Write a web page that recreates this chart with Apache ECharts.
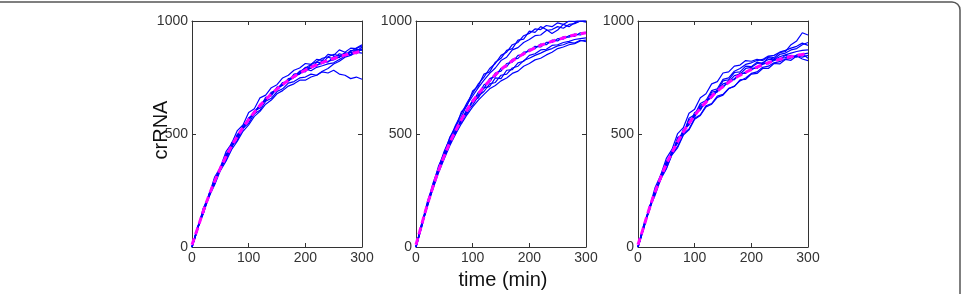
<!DOCTYPE html>
<html>
<head>
<meta charset="utf-8">
<script src="https://cdn.jsdelivr.net/npm/echarts@6/dist/echarts.min.js"></script>
<style>
  html, body { margin: 0; padding: 0; background: #fff; }
  #chart { width: 963px; height: 294px; }
</style>
</head>
<body>
<div id="chart"></div>
<script>
"use strict";

// time points (min), one every 10 min
const times = [0,10,20,30,40,50,60,70,80,90,100,110,120,130,140,150,160,170,180,190,200,210,220,230,240,250,260,270,280,290,300];
const xTicks = [0, 100, 200, 300];
const yTicks = [0, 500, 1000];

// mean curves (magenta, dashed)
const mean1 = [10,83,159,228,291,348,400,447,490,529,564,596,626,652,677,699,719,737,754,769,782,795,806,816,826,834,842,849,856,861,867];
const mean2 = [10,99,187,267,340,404,463,515,563,605,644,678,709,737,762,785,805,824,840,855,869,881,892,901,910,918,925,932,938,943,948];
const mean3 = [10,89,170,242,307,366,418,466,509,547,582,613,641,666,689,710,728,745,760,773,785,796,806,815,823,830,837,842,848,852,857];

// stochastic runs (blue), panel 1
const runs1 = [
  [0,92,148,232,280,350,385,448,472,525,548,590,605,645,658,688,700,725,732,748,752,765,760,775,770,782,765,760,745,752,742],
  [0,78,172,228,310,352,422,458,515,540,595,612,660,672,705,718,748,760,782,792,812,808,830,826,852,848,872,862,880,878,890],
  [0,88,148,236,280,355,395,462,478,538,560,602,615,662,668,708,715,745,750,778,775,805,800,825,818,842,838,860,852,875,870],
  [0,78,170,225,302,340,412,438,498,522,572,588,632,648,685,695,728,732,765,770,795,790,818,815,840,832,855,848,870,865,885],
  [0,84,150,222,275,338,380,432,468,512,540,578,600,632,650,678,692,712,722,738,738,752,760,778,790,810,822,840,848,862,858],
  [0,82,162,220,295,342,405,445,495,525,568,592,630,650,680,698,722,735,758,765,788,780,795,802,810,815,830,845,865,880,895],
  [0,85,158,230,292,350,402,448,492,530,566,595,628,654,678,700,720,738,755,775,792,808,820,835,842,852,846,858,850,868,875],
  [0,80,160,228,290,345,400,450,488,528,562,600,625,652,676,697,718,736,750,768,780,792,806,812,822,828,842,850,862,855,878]
];

// stochastic runs (blue), panel 2
const runs2 = [
  [0,105,190,282,352,425,482,540,590,638,680,722,752,790,812,848,862,895,905,935,945,965,962,980,975,992,985,1000,998,1005,1000],
  [0,98,200,272,360,415,488,528,598,625,690,712,765,775,818,835,870,878,915,920,955,950,975,962,945,960,985,975,992,1000,1002],
  [0,92,185,275,345,420,470,535,575,630,668,705,738,768,792,825,840,872,882,905,918,935,938,958,962,975,968,985,988,1000,995],
  [0,100,180,265,338,398,470,508,570,598,652,672,718,730,770,778,812,818,848,850,875,878,898,895,915,912,930,928,942,938,950],
  [0,95,192,262,345,400,458,520,558,612,640,685,702,745,755,790,798,830,835,862,865,888,885,905,905,922,920,935,932,948,945],
  [0,90,182,258,330,392,450,500,545,585,620,650,675,700,715,735,748,768,778,800,812,828,835,850,862,878,885,895,900,912,915],
  [0,102,178,270,335,410,455,512,552,600,628,668,688,722,728,760,765,792,800,825,835,848,858,870,878,890,895,905,902,915,908],
  [0,88,188,260,342,396,465,502,565,590,648,660,705,710,748,745,782,785,815,822,848,855,872,875,892,895,905,910,918,922,925]
];

// stochastic runs (blue), panel 3
const runs3 = [
  [0,98,172,262,318,392,432,502,528,592,610,660,678,722,732,770,775,800,805,825,822,830,825,842,838,860,865,895,912,948,938],
  [0,82,178,235,318,358,428,460,520,540,595,605,650,660,698,705,738,740,770,768,792,790,815,810,830,828,848,840,845,832,825],
  [0,92,162,250,300,375,412,478,502,562,575,628,636,685,690,735,740,772,775,800,798,818,812,838,832,852,858,872,878,895,905],
  [0,85,172,235,305,348,412,445,500,522,570,585,625,635,668,675,702,710,740,742,765,768,790,790,812,810,830,826,845,840,848],
  [0,90,168,246,302,370,415,472,505,552,580,620,640,675,686,722,730,758,765,790,795,812,815,830,828,842,850,858,865,870,872],
  [0,80,168,228,300,345,408,440,495,518,565,582,620,632,662,672,700,712,735,748,768,775,795,800,815,820,832,836,850,852,858],
  [0,95,160,252,298,380,410,485,500,570,585,635,648,692,700,742,748,778,790,808,815,825,830,845,848,862,870,880,888,902,892],
  [0,86,170,240,306,365,418,465,510,548,582,612,642,665,690,710,728,745,760,774,785,796,808,818,825,834,838,848,840,855,835]
];

const panels = [
  { left: 192, mean: mean1, runs: runs1 },
  { left: 416, mean: mean2, runs: runs2 },
  { left: 638, mean: mean3, runs: runs3 }
];

const TOP = 21, W = 170, H = 226;
const AXIS_COLOR = "#333";
const FONT = "Liberation Sans, Arial, sans-serif";

function pairs(vals) {
  return times.map((t, i) => [t, vals[i]]);
}

const grid = [], xAxis = [], yAxis = [], series = [];

panels.forEach(function (p, i) {
  grid.push({ left: p.left, top: TOP, width: W, height: H, show: false });

  const tick = { show: true, inside: true, length: 4, lineStyle: { color: AXIS_COLOR } };
  const line = { show: true, onZero: false, lineStyle: { color: AXIS_COLOR, width: 1 } };
  const label = { color: "#333", fontSize: 14, fontFamily: FONT, formatter: (v) => String(v) };

  const xBase = { type: "value", gridIndex: i, min: xTicks[0], max: xTicks[xTicks.length - 1],
    interval: xTicks[1] - xTicks[0], axisLine: line, axisTick: tick, splitLine: { show: false } };
  const yBase = { type: "value", gridIndex: i, min: yTicks[0], max: yTicks[yTicks.length - 1],
    interval: yTicks[1] - yTicks[0], axisLine: line, axisTick: tick, splitLine: { show: false } };

  // bottom / left axes carry labels, top / right only mirror the box
  xAxis.push(Object.assign({}, xBase, { position: "bottom", axisLabel: Object.assign({ margin: 4 }, label) }));
  xAxis.push(Object.assign({}, xBase, { position: "top", axisLabel: { show: false } }));
  yAxis.push(Object.assign({}, yBase, { position: "left", axisLabel: Object.assign({ margin: 4 }, label) }));
  yAxis.push(Object.assign({}, yBase, { position: "right", axisLabel: { show: false } }));

  p.runs.forEach(function (r) {
    series.push({
      type: "line", xAxisIndex: i * 2, yAxisIndex: i * 2, data: pairs(r),
      showSymbol: false, silent: true, clip: true, z: 2,
      lineStyle: { color: "#0000ff", width: 1.2 }
    });
  });

  series.push({
    type: "line", xAxisIndex: i * 2, yAxisIndex: i * 2, data: pairs(p.mean),
    showSymbol: false, silent: true, clip: true, z: 3, smooth: true,
    lineStyle: { color: "#ff00ff", width: 3, type: [7, 4] }
  });
});

const chart = echarts.init(document.getElementById("chart"), null, { renderer: "canvas" });

chart.setOption({
  animation: false,
  backgroundColor: "#fff",
  grid: grid,
  xAxis: xAxis,
  yAxis: yAxis,
  series: series,
  graphic: [
    {
      // outer frame: only the top and right edges fall inside the picture
      type: "rect", silent: true,
      shape: { x: -10, y: 2, width: 970, height: 400, r: 8 },
      style: { fill: "none", stroke: "#555", lineWidth: 1.5 }
    },
    {
      type: "text", x: 161, y: 130, rotation: Math.PI / 2, silent: true,
      style: { text: "crRNA", font: "20px " + FONT, fill: "#111", align: "center", verticalAlign: "middle" }
    },
    {
      type: "text", x: 503, y: 280, silent: true,
      style: { text: "time (min)", font: "20px " + FONT, fill: "#111", align: "center", verticalAlign: "middle" }
    }
  ]
});
</script>
</body>
</html>
